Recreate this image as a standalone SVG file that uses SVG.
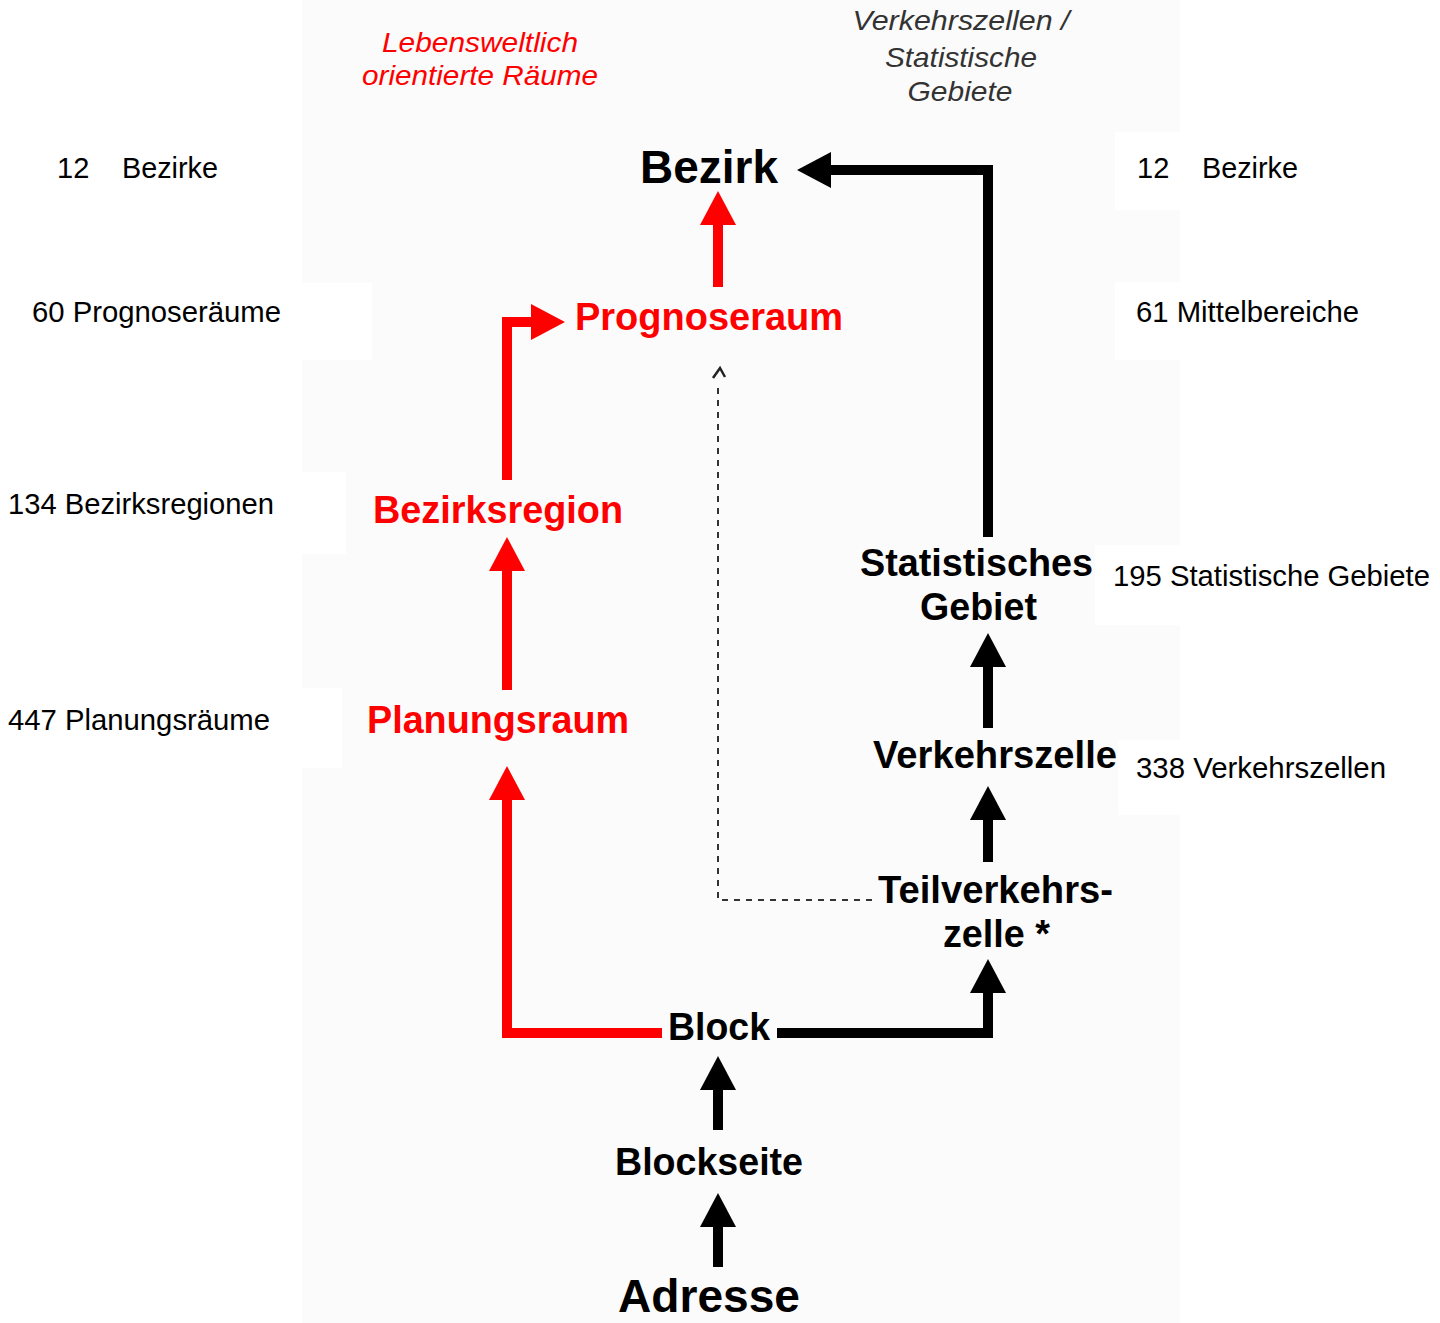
<svg xmlns="http://www.w3.org/2000/svg" width="1440" height="1323" viewBox="0 0 1440 1323">
<style>
  .main { font-family: "Liberation Sans", Arial, sans-serif; font-weight: bold; font-size: 38px; }
  .big { font-size: 46px; }
  .red { fill: #ff0000; }
  .blk { fill: #000000; }
  .side { font-family: "Liberation Sans", Arial, sans-serif; font-size: 29px; fill: #000; }
  .hdr { font-family: "Liberation Sans", Arial, sans-serif; font-style: italic; font-size: 28px; text-anchor: middle; }
  .ra { fill: none; stroke: #ff0000; stroke-width: 10; stroke-linejoin: miter; stroke-linecap: butt; marker-end: url(#hr); }
  .ba { fill: none; stroke: #000; stroke-width: 10; stroke-linejoin: miter; stroke-linecap: butt; marker-end: url(#hb); }
  .dash { fill: none; stroke: #333; stroke-width: 2; stroke-dasharray: 6 6; }
</style>
<defs>
  <marker id="hr" viewBox="0 0 34 36" refX="0" refY="18" markerWidth="34" markerHeight="36" markerUnits="userSpaceOnUse" orient="auto">
    <path d="M0,0 L34,18 L0,36 Z" fill="#ff0000"/>
  </marker>
  <marker id="hb" viewBox="0 0 34 36" refX="0" refY="18" markerWidth="34" markerHeight="36" markerUnits="userSpaceOnUse" orient="auto">
    <path d="M0,0 L34,18 L0,36 Z" fill="#000"/>
  </marker>
</defs>
<rect x="0" y="0" width="1440" height="1323" fill="#ffffff"/>
<rect x="302" y="0" width="878" height="1323" fill="#fbfbfb"/>
<rect x="302" y="283" width="70" height="77" fill="#ffffff"/>
<rect x="302" y="472" width="44" height="82" fill="#ffffff"/>
<rect x="302" y="688" width="40" height="80" fill="#ffffff"/>
<rect x="1115" y="132" width="65" height="78" fill="#ffffff"/>
<rect x="1115" y="282" width="65" height="78" fill="#ffffff"/>
<rect x="1095" y="545" width="85" height="80" fill="#ffffff"/>
<rect x="1118" y="740" width="62" height="75" fill="#ffffff"/>

<g id="headers">
  <text class="hdr red" x="480" y="52" textLength="196" lengthAdjust="spacingAndGlyphs">Lebensweltlich</text>
  <text class="hdr red" x="480" y="85" textLength="236" lengthAdjust="spacingAndGlyphs">orientierte Räume</text>
  <text class="hdr" fill="#333" x="961" y="30" textLength="217" lengthAdjust="spacingAndGlyphs">Verkehrszellen /</text>
  <text class="hdr" fill="#333" x="961" y="67" textLength="152" lengthAdjust="spacingAndGlyphs">Statistische</text>
  <text class="hdr" fill="#333" x="960" y="101" textLength="105" lengthAdjust="spacingAndGlyphs">Gebiete</text>
</g>

<g id="side-labels">
  <text class="side" x="57" y="178">12</text>
  <text class="side" x="122" y="178" textLength="96" lengthAdjust="spacingAndGlyphs">Bezirke</text>
  <text class="side" x="32" y="322" textLength="249" lengthAdjust="spacingAndGlyphs">60 Prognoseräume</text>
  <text class="side" x="8" y="514" textLength="266" lengthAdjust="spacingAndGlyphs">134 Bezirksregionen</text>
  <text class="side" x="8" y="730" textLength="262" lengthAdjust="spacingAndGlyphs">447 Planungsräume</text>
  <text class="side" x="1137" y="178">12</text>
  <text class="side" x="1202" y="178" textLength="96" lengthAdjust="spacingAndGlyphs">Bezirke</text>
  <text class="side" x="1136" y="322" textLength="223" lengthAdjust="spacingAndGlyphs">61 Mittelbereiche</text>
  <text class="side" x="1113" y="586" textLength="317" lengthAdjust="spacingAndGlyphs">195 Statistische Gebiete</text>
  <text class="side" x="1136" y="778" textLength="250" lengthAdjust="spacingAndGlyphs">338 Verkehrszellen</text>
</g>

<g id="connectors">
  <path class="ra" d="M718,287 V225"/>
  <path class="ra" d="M507,480 V322 H531"/>
  <path class="ra" d="M507,690 V571"/>
  <path class="ra" d="M662,1033 H507 V800"/>
  <path class="ba" d="M988,537 V170 H831"/>
  <path class="ba" d="M988,728 V667"/>
  <path class="ba" d="M988,862 V820"/>
  <path class="ba" d="M777,1033 H988 V993"/>
  <path class="ba" d="M718,1130 V1090"/>
  <path class="ba" d="M718,1267 V1227"/>
  <path class="dash" d="M872,900 H718 V382"/>
  <path d="M713,378 L720,368 L725,377" fill="none" stroke="#222" stroke-width="2.5"/>
</g>

<g id="node-bezirk"><text class="main big blk" x="640" y="183" textLength="138" lengthAdjust="spacingAndGlyphs">Bezirk</text></g>
<g id="node-prognoseraum"><text class="main red" x="575" y="330" textLength="268" lengthAdjust="spacingAndGlyphs">Prognoseraum</text></g>
<g id="node-bezirksregion"><text class="main red" x="373" y="523" textLength="250" lengthAdjust="spacingAndGlyphs">Bezirksregion</text></g>
<g id="node-planungsraum"><text class="main red" x="367" y="733" textLength="262" lengthAdjust="spacingAndGlyphs">Planungsraum</text></g>
<g id="node-statistisches-gebiet">
  <text class="main blk" x="860" y="576" textLength="233" lengthAdjust="spacingAndGlyphs">Statistisches</text>
  <text class="main blk" x="920" y="620" textLength="117" lengthAdjust="spacingAndGlyphs">Gebiet</text>
</g>
<g id="node-verkehrszelle"><text class="main blk" x="873" y="768" textLength="244" lengthAdjust="spacingAndGlyphs">Verkehrszelle</text></g>
<g id="node-teilverkehrszelle">
  <text class="main blk" x="878" y="903" textLength="235" lengthAdjust="spacingAndGlyphs">Teilverkehrs-</text>
  <text class="main blk" x="943" y="947" textLength="107" lengthAdjust="spacingAndGlyphs">zelle *</text>
</g>
<g id="node-block"><text class="main blk" x="668" y="1040" textLength="102" lengthAdjust="spacingAndGlyphs">Block</text></g>
<g id="node-blockseite"><text class="main blk" x="615" y="1175" textLength="188" lengthAdjust="spacingAndGlyphs">Blockseite</text></g>
<g id="node-adresse"><text class="main big blk" x="618" y="1312" textLength="182" lengthAdjust="spacingAndGlyphs">Adresse</text></g>
</svg>
